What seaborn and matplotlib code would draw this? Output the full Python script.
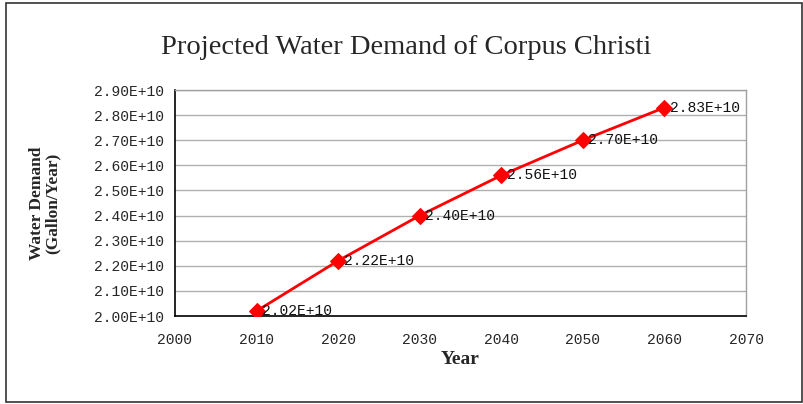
import matplotlib
matplotlib.use("Agg")
import matplotlib.pyplot as plt
import seaborn as sns
import pandas as pd
from matplotlib.patches import Rectangle

years = [2010, 2020, 2030, 2040, 2050, 2060]
demand = [2.02e10, 2.22e10, 2.40e10, 2.56e10, 2.70e10, 2.83e10]
labels = ["2.02E+10", "2.22E+10", "2.40E+10", "2.56E+10", "2.70E+10", "2.83E+10"]
x_ticks = [2000, 2010, 2020, 2030, 2040, 2050, 2060, 2070]
y_ticks = [2.0e10, 2.1e10, 2.2e10, 2.3e10, 2.4e10, 2.5e10, 2.6e10, 2.7e10, 2.8e10, 2.9e10]

df = pd.DataFrame({"Year": years, "Demand": demand})

sns.set_style("white")
plt.rcParams["font.family"] = ["Liberation Mono", "DejaVu Sans Mono"]
serif = ["Liberation Serif", "DejaVu Serif"]

fig = plt.figure(figsize=(8.04, 4.04), dpi=100)
ax = fig.add_axes([175 / 804, 88 / 404, 571 / 804, 226 / 404])

# outer chart frame
fig.patches.append(Rectangle((6 / 804, 2 / 404), 796 / 804, 399 / 404,
                             transform=fig.transFigure, fill=False,
                             edgecolor="#333333", linewidth=1.2))

sns.lineplot(data=df, x="Year", y="Demand", ax=ax, color="#ff0000",
             linewidth=2, marker="D", markersize=8,
             markeredgecolor="#ff0000", zorder=3)

for xv, yv, t in zip(years, demand, labels):
    ax.annotate(t, (xv, yv), xytext=(4, 0), textcoords="offset points",
                va="center", ha="left", fontsize=10.5, color="#111111")

ax.set_xlim(2000, 2070)
ax.set_ylim(2.0e10, 2.9e10)
ax.set_xticks(x_ticks)
ax.set_yticks(y_ticks)
ax.set_xticklabels([str(v) for v in x_ticks], fontsize=10.5)
ax.set_yticklabels([f"{v:.2E}" for v in y_ticks], fontsize=10.5)
ax.tick_params(axis="both", direction="out", length=4, width=1, color="black", pad=4)
ax.tick_params(axis="x", pad=8)
ax.yaxis.grid(True, color="#b0b0b0", linewidth=1)
ax.set_axisbelow(True)
for s in ["left", "bottom"]:
    ax.spines[s].set_color("black")
    ax.spines[s].set_linewidth(1.2)
for s in ["top", "right"]:
    ax.spines[s].set_color("#a0a0a0")
    ax.spines[s].set_linewidth(1)

ax.set_xlabel("Year", fontsize=14, fontweight="bold", family=serif, labelpad=3)
ax.set_ylabel("Water Demand\n(Gallon/Year)", fontsize=12.5, fontweight="bold",
              family=serif, labelpad=24, linespacing=1.0)

fig.text(406 / 804, 1 - 47 / 404, "Projected Water Demand of Corpus Christi",
         ha="center", va="center", fontsize=20.5, family=serif)

fig.savefig("out.png", dpi=100)
